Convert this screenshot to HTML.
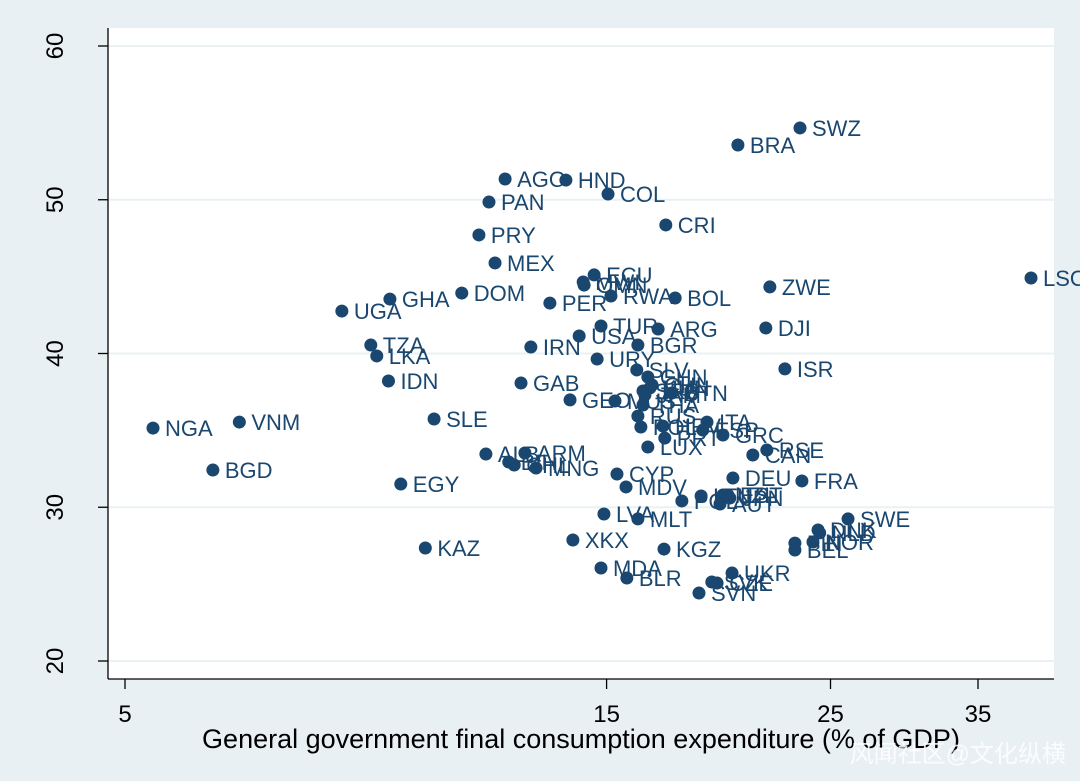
<!DOCTYPE html>
<html><head><meta charset="utf-8"><style>
html,body{margin:0;padding:0;background:#e8f0f3;}
svg{display:block;font-family:"Liberation Sans","Noto Sans CJK SC",sans-serif;}
</style></head><body>
<svg id="chart" width="1080" height="781" viewBox="0 0 1080 781" xmlns="http://www.w3.org/2000/svg">
<rect x="0" y="0" width="1080" height="781" fill="#e8f0f3"/>
<rect x="108" y="28" width="946" height="651" fill="#ffffff"/>
<g id="grid"></g>
<g id="axes"></g>
<g id="points"></g>
<text x="581" y="748" font-size="27" text-anchor="middle" fill="#000">General government final consumption expenditure (% of GDP)</text>
<text x="1066" y="762" font-size="24" text-anchor="end" fill="#ffffff" opacity="0.85">风闻社区@文化纵横</text>
</svg>
<script>
const labels = ["NGA","BGD","VNM","UGA","TZA","LKA","GHA","IDN","EGY","KAZ","SLE","DOM","ALB","PRY","PAN","AGO","MEX","ARM","BIH","CHL","MNG","GAB","IRN","PER","HND","GEO","XKX","USA","MWI","OMN","ECU","URY","TUR","MDA","LVA","COL","RWA","CYP","MUS","MDV","BLR","BGR","SLV","MLT","ISR","DJI","ZWE","ARG","BOL","CRI","BRA","SWZ","LSO","CHN","CHL","SRB","HUN","BTN","JAM","THA","RUS","POL","HRV","PRT","LUX","ITA","ESP","GRC","RSE","CAN","DEU","FRA","POL","LTU","NZL","EST","AUT","JPN","KGZ","UKR","SVK","CZE","SVN","SWE","DNK","NLD","NOR","FIN","BEL"];
const xValues = [5.33,6.11,6.49,8.20,8.76,8.88,9.15,9.12,9.38,9.92,10.12,10.78,11.39,11.21,11.47,11.90,11.63,12.45,12.0,12.15,12.77,12.34,12.62,13.18,13.67,13.80,13.89,14.09,14.22,14.25,14.58,14.68,14.81,14.81,14.91,15.05,15.15,15.36,15.29,15.68,15.71,16.11,16.07,16.11,22.53,21.57,21.77,16.87,17.54,17.17,20.24,23.32,39.5,16.48,16.64,16.30,16.56,17.41,16.37,16.30,16.11,16.22,17.06,17.13,16.48,18.86,18.68,19.56,21.62,20.94,20.01,23.42,17.81,18.61,19.56,19.78,19.43,19.87,17.10,19.97,19.07,19.30,18.52,26.02,24.30,24.39,24.02,23.05,23.05];
const yValues = [35.15,32.42,35.54,42.76,40.55,39.84,43.54,38.21,31.51,27.35,35.74,43.93,33.46,47.71,49.85,51.35,45.89,33.53,32.94,32.75,32.55,38.08,40.42,43.28,51.28,36.98,27.87,41.14,44.65,44.45,45.11,39.64,41.79,26.05,29.56,50.37,43.74,32.16,36.91,31.32,25.40,40.55,38.93,29.24,39.0,41.66,44.33,41.59,43.61,48.36,53.56,54.67,44.91,38.47,37.95,37.56,37.76,37.43,37.30,36.65,35.93,35.22,35.28,34.50,33.92,35.54,35.02,34.70,33.72,33.40,31.90,31.71,30.41,30.73,30.80,30.80,30.21,30.60,27.28,25.72,25.14,25.07,24.42,29.24,28.52,28.33,27.74,27.67,27.22];
const xTicks = [5,15,25,35];
const yTicks = [20,30,40,50,60];

const NS = "http://www.w3.org/2000/svg";
const K = (978-125)/Math.log(7);
function xScale(v){ return 125 + K*Math.log(v/5); }
function yScale(v){ return 46 + (60 - v)*15.375; }
function mk(tag, attrs, parent){ const e=document.createElementNS(NS,tag); for(const k in attrs) e.setAttribute(k,attrs[k]); parent.appendChild(e); return e; }

const grid=document.getElementById('grid'), axes=document.getElementById('axes'), pts=document.getElementById('points');
mk('line',{x1:108,y1:28,x2:108,y2:679,stroke:'#000','stroke-width':1.3},axes);
mk('line',{x1:108,y1:679,x2:1054,y2:679,stroke:'#000','stroke-width':1.3},axes);
yTicks.forEach(t=>{
  const y=yScale(t);
  const g=mk('line',{x1:109,y1:y,x2:1054,y2:y,stroke:'#eaf1f3','stroke-width':2},grid);
  
  
  mk('line',{x1:98,y1:y,x2:108,y2:y,stroke:'#000','stroke-width':1.3},axes);
  const tx=mk('text',{x:0,y:0,'font-size':24,'text-anchor':'middle',fill:'#000',transform:`translate(63,${y}) rotate(-90)`},axes);
  tx.textContent=t;
  
  
});
xTicks.forEach(t=>{
  const x=xScale(t);
  mk('line',{x1:x,y1:679,x2:x,y2:689,stroke:'#000','stroke-width':1.3},axes);
  const tx=mk('text',{x:x,y:722,'font-size':24,'text-anchor':'middle',fill:'#000'},axes);
  tx.textContent=t;
  
  
});
labels.forEach((lab,i)=>{
  const x=xScale(xValues[i]), y=yScale(yValues[i]);
  const c=mk('circle',{cx:x,cy:y,r:6.5,fill:'#1a476f'},pts);
  
  
  const t=mk('text',{x:x+12,y:y+8,'font-size':22,fill:'#1a476f'},pts);
  t.textContent=lab;
  
  
});
</script>
</body></html>
